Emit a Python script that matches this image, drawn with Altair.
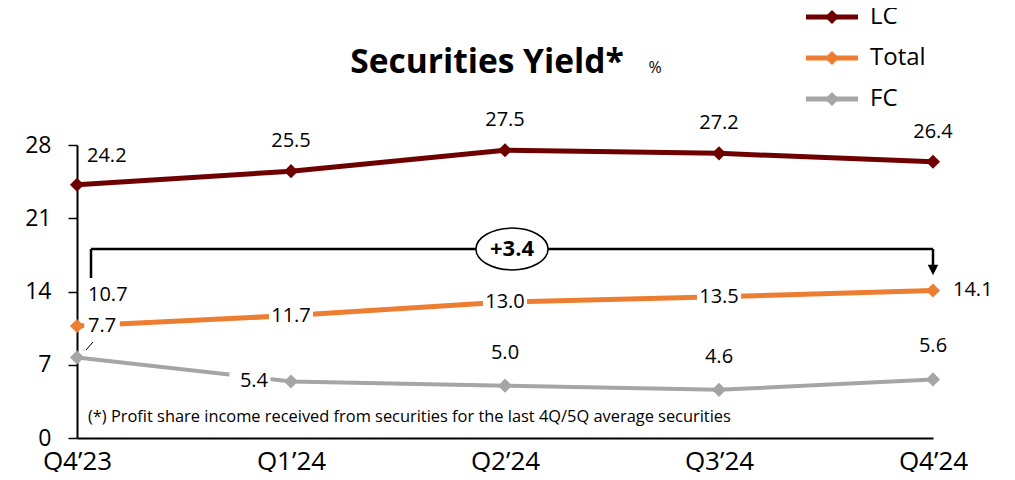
import altair as alt
import pandas as pd

quarters = ["Q4’23", "Q1’24", "Q2’24", "Q3’24", "Q4’24"]
series_names = ["LC", "Total", "FC"]
lc_values = [24.2, 25.5, 27.5, 27.2, 26.4]
total_values = [10.7, 11.7, 13.0, 13.5, 14.1]
fc_values = [7.7, 5.4, 5.0, 4.6, 5.6]
y_ticks = [0, 7, 14, 21, 28]
colors = ["#6E0000", "#ED7D31", "#A5A5A5"]

rows = []
for name, vals in zip(series_names, [lc_values, total_values, fc_values]):
    for q, v in zip(quarters, vals):
        rows.append({"quarter": q, "series": name, "value": v})
df = pd.DataFrame(rows)

FONT = "Open Sans"
W, H = 856, 293

x_enc = alt.X("quarter:N", sort=quarters, scale=alt.Scale(type="point", padding=0),
              axis=alt.Axis(title=None, labelAngle=0, ticks=False, labelFontSize=26,
                            labelPadding=31, labelBaseline="alphabetic", labelColor="black",
                            domainColor="black", domainWidth=2, grid=False, labelFont=FONT))
y_enc = alt.Y("value:Q", scale=alt.Scale(domain=[0, 28], nice=False, zero=True),
              axis=alt.Axis(title=None, values=y_ticks, labelFontSize=23, labelColor="black",
                            domainColor="black", domainWidth=2, tickColor="black",
                            tickWidth=1.5, tickSize=9, labelPadding=17, grid=False,
                            labelFont=FONT))
color_enc = alt.Color("series:N", scale=alt.Scale(domain=series_names, range=colors), legend=None)

base = alt.Chart(df)

lines = []
for name, col, sw in zip(series_names, colors, [5, 5, 4]):
    lines.append(base.transform_filter(alt.datum.series == name)
                 .mark_line(color=col, strokeWidth=sw)
                 .encode(x=x_enc, y=y_enc))

box_shape = "M-1.3,-0.55H1.3V0.55H-1.3Z"

def sel(series, qs):
    cond = " || ".join([f"datum.quarter == '{q}'" for q in qs])
    return base.transform_filter(f"datum.series == '{series}' && ({cond})")

def label(series, qs, align="center", dx=0, dy=0):
    return sel(series, qs).mark_text(align=align, baseline="middle", dx=dx, dy=dy,
                                     fontSize=20, font=FONT, color="black").encode(
        x=alt.X("quarter:N", sort=quarters), y="value:Q",
        text=alt.Text("value:Q", format=".1f"))

def box(series, qs, xo=0, yo=0, size=1000):
    return sel(series, qs).mark_point(shape=box_shape, filled=True, color="white",
                                      opacity=1, size=size, xOffset=xo, yOffset=yo).encode(
        x=alt.X("quarter:N", sort=quarters), y="value:Q")

points = base.mark_point(shape="diamond", filled=True, opacity=1, size=200).encode(
    x=x_enc, y=y_enc, color=color_enc)

boxes = [
    box("Total", quarters[1:4], size=1150),
    box("FC", [quarters[0]], xo=25, yo=-31, size=750),
    box("FC", [quarters[1]], xo=-41, size=1000),
]

labels = [
    label("LC", [quarters[0]], align="left", dx=10, dy=-29),
    label("LC", quarters[1:], dy=-30),
    label("Total", [quarters[0]], align="left", dx=11, dy=-31),
    label("Total", quarters[1:4]),
    label("Total", [quarters[4]], align="left", dx=20),
    label("FC", [quarters[0]], align="left", dx=11, dy=-31),
    label("FC", [quarters[1]], align="right", dx=-23),
    label("FC", quarters[2:], dy=-33),
]

one = alt.Data(values=[{"a": 0}])

def rule(x1, x2, y1, y2, color="black", sw=2.5):
    return alt.Chart(one).mark_rule(color=color, strokeWidth=sw).encode(
        x=alt.value(x1), x2=alt.value(x2), y=alt.value(y1), y2=alt.value(y2))

def text(t, x, y, size, weight="normal", align="center", baseline="middle"):
    return alt.Chart(one).mark_text(text=t, fontSize=size, fontWeight=weight, align=align,
                                    baseline=baseline, font=FONT, color="black").encode(
        x=alt.value(x), y=alt.value(y))

deco = [
    # bracket
    rule(14, 14, 104, 133),
    rule(14, 856, 104, 104),
    rule(856, 856, 104, 122),
    alt.Chart(one).mark_point(shape="M-1,-1L1,-1L0,1Z", filled=True, color="black",
                              opacity=1, size=110).encode(x=alt.value(856), y=alt.value(125)),
    alt.Chart(one).mark_point(shape="M-1,0A1,0.58 0 1 1 1,0A1,0.58 0 1 1 -1,0Z",
                              filled=True, fill="white", stroke="black", strokeWidth=1.5,
                              opacity=1, size=5184).encode(x=alt.value(435), y=alt.value(104)),
    text("+3.4", 435, 104, 22, weight="bold"),
    # leader line for 7.7
    rule(9, 16, 205, 197, sw=1),
    # title
    text("Securities Yield*", 410, -72, 33.5, weight="bold", baseline="alphabetic"),
    text("%", 578, -72, 16, baseline="alphabetic"),
    # footnote
    text("(*) Profit share income received from securities for the last 4Q/5Q average securities",
         11, 272, 16.4, align="left"),
]

legend = []
for i, (name, col) in enumerate(zip(series_names, colors)):
    yy = -128 + 41 * i
    legend.append(rule(729, 781, yy, yy, color=col, sw=5))
    legend.append(alt.Chart(one).mark_point(shape="diamond", filled=True, color=col, opacity=1,
                                            size=200).encode(x=alt.value(755), y=alt.value(yy)))
    legend.append(text(name, 793, yy, 24, align="left"))

chart = alt.layer(*lines, points, *boxes, *labels, *deco, *legend).properties(
    width=W, height=H,
    autosize=alt.AutoSizeParams(type="none"),
    padding={"left": 69, "top": 137, "right": 70, "bottom": 34},
).configure_view(stroke=None)

chart.save("out.html", embed_options={"renderer": "svg", "actions": False})
